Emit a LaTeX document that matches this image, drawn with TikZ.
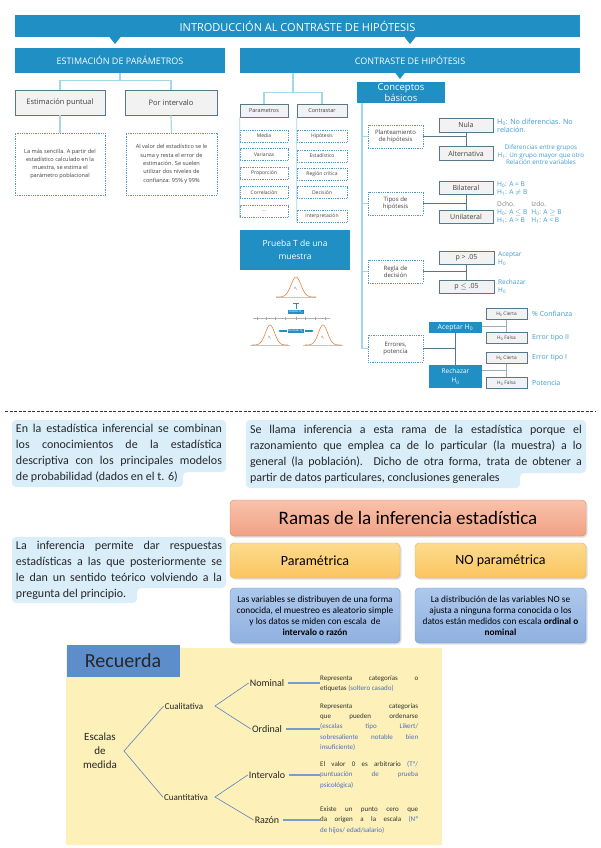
\documentclass[tikz,border=0pt]{standalone}
\usepackage{fontspec}
\setmainfont{Carlito}
\newfontfamily\osans{Open Sans}
\usetikzlibrary{positioning,calc,arrows.meta,shadows}
\definecolor{topblue}{HTML}{1F8FC4}
\definecolor{linkclr}{HTML}{A3D8EA}
\definecolor{dashclr}{HTML}{5597C2}
\definecolor{frameclr}{HTML}{55788C}
\definecolor{noteclr}{HTML}{3E9BD2}
\definecolor{infobg}{HTML}{DAEEFA}
\definecolor{salmontop}{HTML}{F8C3AB}
\definecolor{salmonbot}{HTML}{F2A083}
\definecolor{salmonline}{HTML}{D88A70}
\definecolor{goldtop}{HTML}{FDDB8E}
\definecolor{goldbot}{HTML}{FBC560}
\definecolor{goldline}{HTML}{DDB060}
\definecolor{skytop}{HTML}{ADC8EC}
\definecolor{skybot}{HTML}{8FB1E0}
\definecolor{skyline}{HTML}{7A9CCB}
\definecolor{recbg}{HTML}{FDF0B8}
\definecolor{recblue}{HTML}{5D8ECB}
\definecolor{branchclr}{HTML}{5B80C0}
\definecolor{descclr}{HTML}{4A70C0}
\definecolor{curveclr}{HTML}{E0874A}

\begin{document}
\begin{tikzpicture}[x=1pt, y=-1pt,
    wh/.style 2 args={minimum width=#1pt, minimum height=#2pt},
    band/.style={fill=topblue, text=white, inner sep=0pt, align=center},
    optbox/.style={fill=gray!10, draw=frameclr, line width=0.6pt, inner sep=0pt, text=black!75},
    dashbox/.style={draw=dashclr, dash pattern=on 1pt off 0.8pt, line width=0.5pt, fill=white,
                    inner sep=0pt, align=center, text=black!75},
    link/.style={draw=linkclr, line width=1.2pt},
    wire/.style={draw=frameclr, line width=0.8pt},
    note/.style={text=noteclr, anchor=west, align=left, inner sep=0pt, font=\osans\fontsize{6.3}{7.5}\selectfont},
    infotext/.style={text width=#1pt, align=justify, inner sep=0pt, font=\fontsize{12}{16}\selectfont, text=black!85},
    tier/.style={rounded corners=4pt, draw=#1line, top color=#1top, bottom color=#1bot, inner sep=0pt, align=center,
                 drop shadow={opacity=0.25, shadow xshift=1.5pt, shadow yshift=-1.5pt}},
    branch/.style={draw=branchclr, line width=0.6pt},
    lvl/.style={inner sep=1pt, font=\fontsize{10}{12}\selectfont, text=black!85},
    desc/.style={anchor=west, text width=98pt, align=justify, inner sep=0pt, font=\fontsize{7}{10.2}\selectfont, text=black!80},
  ]
  \useasboundingbox (0,0) rectangle (600,848);
  \fill[white] (0,0) rectangle (600,848);

  % title band and the two parts
  \node[band, wh={565}{22}, font=\osans\fontsize{11}{12}\selectfont] (intro) at (297.5,26) {INTRODUCCIÓN AL CONTRASTE DE HIPÓTESIS};
  \fill[topblue] (109,36.5) -- (121,36.5) -- (115,44) -- cycle;
  \fill[topblue] (404,36.5) -- (416,36.5) -- (410,44) -- cycle;
  \node[band, wh={210}{25}, font=\osans\fontsize{9}{10}\selectfont] (estim) at (120,60.5) {ESTIMACIÓN DE PARÁMETROS};
  \node[band, wh={340}{25}, font=\osans\fontsize{9}{10}\selectfont] (contra) at (410,60.5) {CONTRASTE DE HIPÓTESIS};

  % estimacion
  \node[optbox, wh={90}{25}, font=\osans\fontsize{7.5}{9}\selectfont] (punt) at (60,102.5) {Estimación puntual};
  \node[optbox, wh={92}{25}, font=\osans\fontsize{7.5}{9}\selectfont] (inter) at (171,102.5) {Por intervalo};
  \node[dashbox, wh={90}{62}, font=\osans\fontsize{5.6}{8.3}\selectfont] (puntd) at (60,164)
    {La más sencilla. A partir del\\estadístico calculado en la\\muestra, se estima el\\parámetro poblacional};
  \node[dashbox, wh={91}{62}, font=\osans\fontsize{5.6}{8.3}\selectfont] (interd) at (171.5,164)
    {Al valor del estadístico se le\\suma y resta el error de\\estimación. Se suelen\\utilizar dos niveles de\\confianza: 95\% y 99\%};
  \path (estim.south) ++(0,7) coordinate (lj);
  \draw[link] (estim.south) -- (lj);
  \draw[link] (punt.north) |- (lj) -| (inter.north);
  \draw[link] (punt.south) -- (puntd.north);
  \draw[link] (inter.south) -- (interd.north);

  % contraste: two lists
  \node[optbox, wh={48}{13}, font=\osans\fontsize{5.5}{7}\selectfont] (param) at (264,110.5) {Parametros};
  \node[optbox, wh={50}{13}, font=\osans\fontsize{5.5}{7}\selectfont] (contr) at (322,110.5) {Contrastar};
  \foreach \lbl/\yy [count=\i] in {Media/136, Varianza/154.5, Proporción/173.5, Correlación/192.5, \ldots/211.5}
    \node[dashbox, wh={48}{12}, font=\osans\fontsize{5}{6}\selectfont] (par\i) at (264,\yy) {\lbl};
  \foreach \lbl/\yy [count=\i] in {Hipótesis/136, Estadístico/156, Región crítica/174, Decisión/192.5, Interpretación/216}
    \node[dashbox, wh={50}{12}, font=\osans\fontsize{5}{6}\selectfont] (con\i) at (322,\yy) {\lbl};
  \draw[link, line width=0.8pt] (param.south west) -- (par5.south west);
  \draw[link, line width=0.8pt] (contr.south west) -- (con5.south west);
  \coordinate (mj) at ($(param.north)!0.5!(contr.north)+(0,-11)$);
  \draw[link] (mj) -- (mj |- contra.south);
  \draw[link] (param.north) |- (mj) -| (contr.north);

  % prueba T
  \node[band, wh={110}{40}, font=\osans\fontsize{8.5}{13}\selectfont] (prueba) at (295,250) {Prueba T de una\\muestra};
  \draw[gray!45, line width=0.8pt] (276,297) -- (316,297);
  \draw[curveclr, line width=0.6pt, domain=276:316, samples=40] plot (\x, {297-20*exp(-(((\x-296)/7)^2))});
  \node[inner sep=0pt, text=gray, font=\fontsize{3.5}{4}\selectfont] (h0lbl) at (296,289) {H\textsubscript{0}};
  \draw[topblue, line width=0.8pt] (293,303) -- (299,303) (296,303) -- (296,309);
  \node[fill=topblue, text=white, inner sep=0.8pt, font=\fontsize{3}{3.5}\selectfont] (accl) at (296,312) {Aceptar H\textsubscript{0}};
  \draw[gray!60, line width=0.4pt] (253,318) -- (330,318);
  \foreach \tx in {257,266,275,285,296,305,315,325}
    \draw[gray!70, line width=0.4pt] (\tx,316.5) -- (\tx,319.5);
  \node[fill=topblue, text=white, inner sep=0.8pt, font=\fontsize{3}{3.5}\selectfont] (rejl) at (296,331) {Rechazar H\textsubscript{0}};
  \draw[topblue, line width=1.1pt, -{Latex[length=2pt,width=3pt]}] (rejl.west) -- ++(-9,0);
  \draw[topblue, line width=1.1pt, -{Latex[length=2pt,width=3pt]}] (rejl.east) -- ++(9,0);
  \draw[gray!45, line width=0.8pt] (250,345) -- (290,345) (303,345) -- (343,345);
  \draw[curveclr, line width=0.6pt, domain=252:288, samples=40] plot (\x, {345-20*exp(-(((\x-270)/6.5)^2))});
  \draw[curveclr, line width=0.6pt, domain=305:341, samples=40] plot (\x, {345-20*exp(-(((\x-323)/6.5)^2))});
  \node[inner sep=0pt, text=gray, font=\fontsize{3.5}{4}\selectfont] (h1a) at (270,338) {H\textsubscript{1}};
  \node[inner sep=0pt, text=gray, font=\fontsize{3.5}{4}\selectfont] (h1b) at (323,338) {H\textsubscript{1}};

  % conceptos basicos
  \fill[topblue] (395,72.5) -- (405,72.5) -- (400,79) -- cycle;
  \node[band, wh={88}{21}, font=\osans\fontsize{9.5}{10.5}\selectfont] (concept) at (401,92.5) {Conceptos\\básicos};
  \node[dashbox, wh={55}{23}, font=\osans\fontsize{6}{7.5}\selectfont] (plant) at (395.5,136.5) {Planteamiento\\de hipótesis};
  \node[dashbox, wh={55}{23}, font=\osans\fontsize{6}{7.5}\selectfont] (tipos) at (395.5,203.5) {Tipos de\\hipótesis};
  \node[dashbox, wh={55}{23}, font=\osans\fontsize{6}{7.5}\selectfont] (regla) at (395.5,271.5) {Regla de\\decisión};
  \node[dashbox, wh={55}{27}, font=\osans\fontsize{6}{7.5}\selectfont] (error) at (395.5,348.5) {Errores,\\potencia};
  \coordinate (spine) at (362,103);
  \draw[link] (spine) |- (plant.west);
  \draw[link] (spine) |- (tipos.west);
  \draw[link] (spine) |- (regla.west);
  \draw[link] (spine) |- (error.west);

  \node[optbox, wh={54}{14}, font=\osans\fontsize{7}{8}\selectfont] (nula) at (466,125) {Nula};
  \node[optbox, wh={54}{14}, font=\osans\fontsize{7}{8}\selectfont] (alt) at (466,153.5) {Alternativa};
  \node[optbox, wh={54}{13}, font=\osans\fontsize{7}{8}\selectfont] (bila) at (466,188) {Bilateral};
  \node[optbox, wh={54}{13}, font=\osans\fontsize{7}{8}\selectfont] (unil) at (466,216.5) {Unilateral};
  \node[optbox, wh={55}{13}, font=\osans\fontsize{7}{8}\selectfont] (pmay) at (466.5,257.5) {p > .05};
  \node[optbox, wh={55}{13}, font=\osans\fontsize{7}{8}\selectfont] (pmen) at (466.5,286.5) {p $\leq$ .05};
  \draw[wire] (plant.east) -- (plant.east -| nula.south);
  \draw[wire] (nula.south) -- (alt.north);
  \draw[wire] (tipos.east) -- (tipos.east -| bila.south);
  \draw[wire] (bila.south) -- (unil.north);
  \draw[wire] (regla.east) -- (regla.east -| pmay.south);
  \draw[wire] (pmay.south) -- (pmen.north);

  \node[note, font=\osans\fontsize{7.2}{8.5}\selectfont] (nnula) at (497,126) {H\textsubscript{0}: No diferencias. No\\relación.};
  \node[note, align=center, anchor=center] (nalt) at (541,155) {Diferencias entre grupos\\H\textsubscript{1}: Un grupo mayor que otro\\Relación entre variables};
  \node[note, font=\osans\fontsize{6.6}{8}\selectfont] (nbila) at (497,188.5) {H\textsubscript{0}: A = B\\H\textsubscript{1}: A $\neq$ B};
  \node[note, font=\osans\fontsize{6.6}{8}\selectfont] (nunil) at (497,213)
    {\begin{tabular}{@{}l@{\hspace{4pt}}l@{}}
       \textcolor{gray}{Dcho.} & \textcolor{gray}{Izdo.}\\
       H\textsubscript{0}: A $\leq$ B & H\textsubscript{0}: A $\geq$ B\\
       H\textsubscript{1}: A > B & H\textsubscript{1}: A < B
     \end{tabular}};
  \node[note, font=\osans\fontsize{6.5}{8}\selectfont] (npmay) at (498,259) {Aceptar\\H\textsubscript{0}};
  \node[note, font=\osans\fontsize{6.5}{8}\selectfont] (npmen) at (498,286.5) {Rechazar\\H\textsubscript{0}};

  % errores
  \node[band, wh={53}{11}, font=\osans\fontsize{7}{8}\selectfont] (acep) at (455.5,327.5) {Aceptar H\textsubscript{0}};
  \node[band, wh={53}{23}, font=\osans\fontsize{6.5}{9}\selectfont] (rech) at (455.5,376.5) {Rechazar\\H\textsubscript{0}};
  \node[optbox, wh={41}{11}, font=\osans\fontsize{4.8}{5}\selectfont] (s1) at (506.5,314) {H\textsubscript{0} Cierta};
  \node[optbox, wh={41}{11}, font=\osans\fontsize{4.8}{5}\selectfont] (s2) at (506.5,338) {H\textsubscript{0} Falsa};
  \node[optbox, wh={41}{11}, font=\osans\fontsize{4.8}{5}\selectfont] (s3) at (506.5,358) {H\textsubscript{0} Cierta};
  \node[optbox, wh={41}{11}, font=\osans\fontsize{4.8}{5}\selectfont] (s4) at (506.5,383) {H\textsubscript{0} Falsa};
  \draw[wire] (error.east) -- (error.east -| acep.south);
  \draw[wire] (acep.south) -- (rech.north);
  \path (s1.south) -- (s2.north) coordinate[midway] (m12);
  \path (s3.south) -- (s4.north) coordinate[midway] (m34);
  \draw[wire, draw=frameclr!60] (acep.east |- m12) -- (m12);
  \draw[wire, draw=frameclr!60] (s1.south) -- (s2.north);
  \draw[wire, draw=frameclr!60] (rech.east |- m34) -- (m34);
  \draw[wire, draw=frameclr!60] (s3.south) -- (s4.north);
  \node[note, font=\osans\fontsize{7}{8}\selectfont] (ns1) at (532,314) {\% Confianza};
  \node[note, font=\osans\fontsize{7}{8}\selectfont] (ns2) at (532,338) {Error tipo II};
  \node[note, font=\osans\fontsize{7}{8}\selectfont] (ns3) at (532,358) {Error tipo I};
  \node[note, font=\osans\fontsize{7}{8}\selectfont] (ns4) at (532,383) {Potencia};

  % separator
  \draw[black!80, dash pattern=on 3pt off 1.5pt, line width=0.8pt] (5,411) -- (595,411);

  % info texts
  \fill[infobg, rounded corners=4pt] (12,420) -- (226,420) -- (226,472) -- (183,472) -- (183,487) -- (12,487) -- cycle;
  \node[infotext=206] (txtcomb) at (119,453.5)
    {En la estadística inferencial se combinan\linebreak los conocimientos de la estadística\linebreak
     descriptiva con los principales modelos\linebreak de probabilidad (dados en el t. 6)};
  \fill[infobg, rounded corners=4pt] (246,420) -- (586,420) -- (586,473) -- (520,473) -- (520,488) -- (246,488) -- cycle;
  \node[infotext=332] (txtllama) at (416,454)
    {Se llama inferencia a esta rama de la estadística porque el\linebreak razonamiento que emplea ca de lo particular (la muestra) a lo\linebreak
     general (la población). Dicho de otra forma, trata de obtener a\linebreak partir de datos particulares, conclusiones generales};
  \fill[infobg, rounded corners=4pt] (12,537) -- (226,537) -- (226,588) -- (137,588) -- (137,603) -- (12,603) -- cycle;
  \node[infotext=206] (txtperm) at (119,570)
    {La inferencia permite dar respuestas\linebreak estadísticas a las que posteriormente se\linebreak
     le dan un sentido teórico volviendo a la\linebreak pregunta del principio.};

  % ramas
  \node[tier=salmon, wh={356}{36}, font=\fontsize{19}{22}\selectfont] (ramas) at (408,518) {Ramas de la inferencia estadística};
  \node[tier=gold, wh={170}{35}, font=\fontsize{14}{16}\selectfont] (param2) at (315,560.5) {Paramétrica};
  \node[tier=gold, wh={171}{35}, font=\fontsize{14}{16}\selectfont] (noparam) at (500.5,560.5) {NO paramétrica};
  \node[tier=sky, wh={170}{55}, font=\fontsize{9.3}{11}\selectfont] (pdesc) at (315,615.5)
    {Las variables se distribuyen de una forma\\conocida, el muestreo es aleatorio simple\\y los datos se miden con escala\ \ de\\\textbf{intervalo o razón}};
  \node[tier=sky, wh={171}{55}, font=\fontsize{9.3}{11}\selectfont] (npdesc) at (500.5,615.5)
    {La distribución de las variables NO se\\ajusta a ninguna forma conocida o los\\datos están medidos con escala \textbf{ordinal o}\\\textbf{nominal}};

  % recuerda
  \fill[recbg] (66,648) rectangle (442,845);
  \node[fill=recblue, wh={113}{32}, inner sep=0pt, font=\fontsize{20}{22}\selectfont, text=black!85] (recu) at (123,661) {Recuerda};
  \node[lvl, align=center, font=\fontsize{11}{14}\selectfont] (escala) at (100,751) {Escalas\\de\\medida};
  \node[lvl, font=\fontsize{9}{11}\selectfont] (cual) at (184,706) {Cualitativa};
  \node[lvl, font=\fontsize{9}{11}\selectfont] (cuan) at (186,797) {Cuantitativa};
  \node[lvl] (nom) at (267,683) {Nominal};
  \node[lvl] (ord) at (267,729) {Ordinal};
  \node[lvl] (itv) at (267,775) {Intervalo};
  \node[lvl] (raz) at (267,820) {Razón};
  \coordinate (ej) at (124,751);
  \coordinate (cj) at (215,706);
  \coordinate (qj) at (215,797);
  \draw[branch] (cual.west) -- (ej) -- (cuan.west);
  \draw[branch] (nom.west) -- (cj) -- (ord.west);
  \draw[branch] (itv.west) -- (qj) -- (raz.west);
  \node[desc] (dnom) at (320,684) {Representa categorías o\linebreak etiquetas \textcolor{descclr}{(soltero casado)}};
  \node[desc] (dord) at (320,727) {Representa categorías\linebreak que pueden ordenarse\linebreak
     \textcolor{descclr}{(escalas tipo Likert/\linebreak sobresaliente notable bien\linebreak insuficiente)}};
  \node[desc] (ditv) at (320,775) {El valor 0 es arbitrario \textcolor{descclr}{(Tª/\linebreak puntuación de prueba\linebreak psicológica)}};
  \node[desc] (draz) at (320,820) {Existe un punto cero que\linebreak da origen a la escala \textcolor{descclr}{(Nº\linebreak de hijos/ edad/salario)}};
  \foreach \lv/\dv in {nom/dnom, ord/dord, itv/ditv, raz/draz}
    \draw[draw=skyline, line width=1.2pt] (\lv.east) ++(3,0) -- (\lv.east -| \dv.west) ++(-2,0);
\end{tikzpicture}
\end{document}
